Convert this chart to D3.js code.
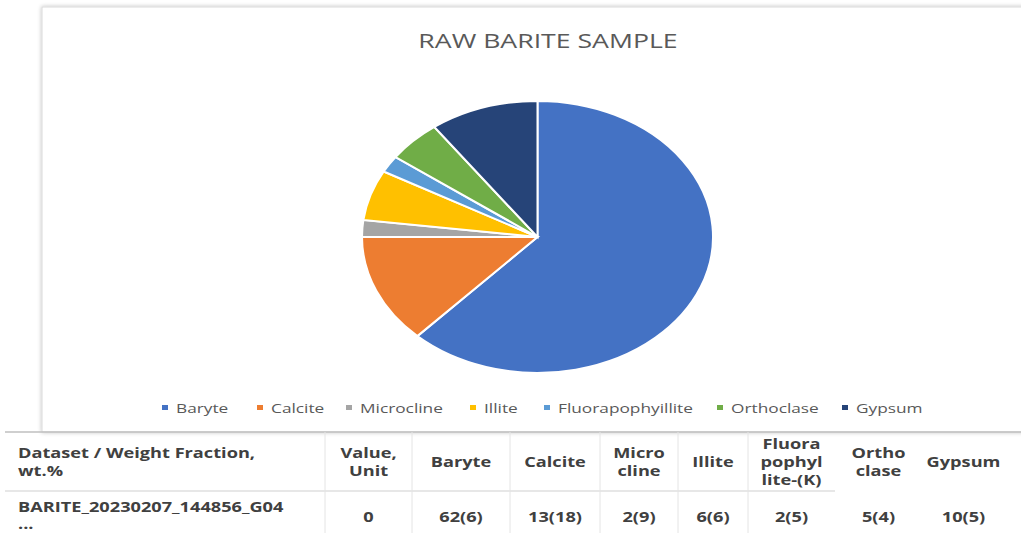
<!DOCTYPE html>
<html>
<head>
<meta charset="utf-8">
<script src="https://cdn.jsdelivr.net/npm/d3@7/dist/d3.min.js"></script>
<style>
  html, body { margin: 0; padding: 0; background: #fff; }
  svg { display: block; }
</style>
</head>
<body>
<svg id="chart" width="1021" height="533"></svg>
<script>
// Mineral phases and their weight fractions (wt.%)
const minerals = ["Baryte", "Calcite", "Microcline", "Illite", "Fluorapophyillite", "Orthoclase", "Gypsum"];
const weights = [62, 13, 2, 6, 2, 5, 10];
const colors = ["#4472C4", "#ED7D31", "#A5A5A5", "#FFC000", "#5B9BD5", "#70AD47", "#264478"];
const title = "RAW BARITE SAMPLE";

// Results table underneath the chart
const headerLines = [
  ["Dataset / Weight Fraction,", "wt.%"],
  ["Value,", "Unit"],
  ["Baryte"], ["Calcite"], ["Micro", "cline"], ["Illite"],
  ["Fluora", "pophyl", "lite-(K)"], ["Ortho", "clase"], ["Gypsum"]
];
const rowLabel = ["BARITE_20230207_144856_G04", "..."];
const rowValues = ["0", "62(6)", "13(18)", "2(9)", "6(6)", "2(5)", "5(4)", "10(5)"];

// The figure is laid out wide: glyphs are stretched horizontally.
const SX = 1.3;

const svg = d3.select("#chart");

function putText(parent, x, y, str, anchor) {
  return parent.append("text")
    .attr("transform", `translate(${x},${y}) scale(${SX},1)`)
    .attr("text-anchor", anchor || "start")
    .text(str);
}

// ---- chart frame ----
const defs = svg.append("defs");
const sh = defs.append("filter").attr("id", "shadow").attr("x", "-5%").attr("y", "-5%").attr("width", "110%").attr("height", "110%");
sh.append("feGaussianBlur").attr("in", "SourceAlpha").attr("stdDeviation", 2);
sh.append("feComponentTransfer").append("feFuncA").attr("type", "linear").attr("slope", 0.25);
const m = sh.append("feMerge");
m.append("feMergeNode");
m.append("feMergeNode").attr("in", "SourceGraphic");

svg.append("rect")
  .attr("x", 42).attr("y", 7).attr("width", 1000).attr("height", 425)
  .attr("fill", "#fff").attr("stroke", "#d9d9d9").attr("stroke-width", 1)
  .attr("filter", "url(#shadow)");

const titleG = svg.append("g")
  .attr("font-family", "'Open Sans', sans-serif")
  .attr("font-size", 20.5)
  .attr("fill", "#595959");
putText(titleG, 548, 48, title, "middle");

// ---- pie (elliptical, following the stretched layout) ----
const cx = 537.5, cy = 237, ry = 136, rx = 175.5;
const pie = d3.pie().sort(null).value(d => d)(weights);
const arc = d3.arc().innerRadius(0).outerRadius(ry);

const pg = svg.append("g")
  .attr("transform", `translate(${cx},${cy}) scale(${rx / ry},1)`);
pg.selectAll("path")
  .data(pie)
  .join("path")
  .attr("d", arc)
  .attr("fill", (d, i) => colors[i])
  .attr("stroke", "#fff")
  .attr("stroke-width", 2)
  .attr("vector-effect", "non-scaling-stroke");

// ---- legend ----
const legendX = [165, 260, 349, 473, 547, 720, 845];
const lg = svg.append("g").attr("font-family", "'Open Sans', sans-serif").attr("font-size", 13.3).attr("fill", "#595959");
minerals.forEach((name, i) => {
  lg.append("rect")
    .attr("x", legendX[i] - 3).attr("y", 405).attr("width", 6).attr("height", 5)
    .attr("fill", colors[i]);
  putText(lg, legendX[i] + 11, 413, name);
});

// ---- table ----
const colEdges = [5, 325, 412, 510, 600, 678, 748, 835, 922, 1005];
const tableTop = 432, headBottom = 491;
const tg = svg.append("g");

tg.append("line").attr("x1", 5).attr("x2", 1021).attr("y1", tableTop).attr("y2", tableTop)
  .attr("stroke", "#bfbfbf").attr("stroke-width", 1.5);
tg.append("line").attr("x1", 5).attr("x2", 835).attr("y1", headBottom).attr("y2", headBottom)
  .attr("stroke", "#cfcfcf").attr("stroke-width", 1.2);
colEdges.slice(1, 7).forEach(x => {
  tg.append("line").attr("x1", x).attr("x2", x).attr("y1", tableTop).attr("y2", 533)
    .attr("stroke", "#e4e4e4").attr("stroke-width", 1);
});

const tf = tg.append("g")
  .attr("font-family", "'Open Sans', sans-serif")
  .attr("font-weight", "bold")
  .attr("font-size", 14)
  .attr("fill", "#404040");

headerLines.forEach((lines, i) => {
  const left = i === 0;
  const x = left ? 18 : (colEdges[i] + colEdges[i + 1]) / 2;
  const lh = 18;
  const mid = 461.5;
  lines.forEach((t, k) => {
    putText(tf, x, mid - (lines.length - 1) * lh / 2 + k * lh + 5, t, left ? "start" : "middle");
  });
});

putText(tf, 18, 512, rowLabel[0]);
putText(tf, 18, 529, rowLabel[1]);
rowValues.forEach((t, i) => {
  putText(tf, (colEdges[i + 1] + colEdges[i + 2]) / 2, 522, t, "middle");
});
</script>
</body>
</html>
